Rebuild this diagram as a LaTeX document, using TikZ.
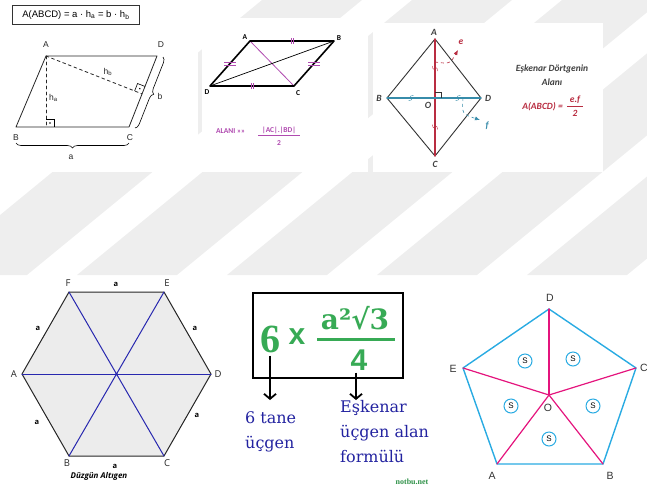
\documentclass[tikz,border=0pt]{standalone}
\usepackage{amsmath, amssymb}
\usepackage{fontspec}
\setmainfont{Liberation Sans}
\newfontfamily\calfont{Carlito}
\newfontfamily\serfont{DejaVu Serif}
\newfontfamily\timesfont{Liberation Serif}
\newfontfamily\opfont{Open Sans}
\usepackage{tikz}
\usetikzlibrary{calc, decorations.pathreplacing, arrows.meta}
\usepackage{tkz-euclide}

\definecolor{wmgray}{RGB}{238,238,238}
\definecolor{lila}{RGB}{176,74,176}
\definecolor{rotd}{RGB}{185,45,65}
\definecolor{petrol}{RGB}{55,140,170}
\definecolor{hexgray}{RGB}{236,236,236}
\definecolor{hexblue}{RGB}{40,40,175}
\definecolor{gruen}{RGB}{55,170,85}
\definecolor{tinte}{RGB}{35,35,160}
\definecolor{cyanp}{RGB}{41,171,226}
\definecolor{magp}{RGB}{228,20,125}

\begin{document}
\begin{tikzpicture}[x=1pt, y=-1pt,
    lbl/.style={inner sep=0pt},
    onelbl/.style={lbl, font=\fontsize{8.5}{9}\selectfont, text=black!85},
    twolbl/.style={lbl, font=\calfont\bfseries\fontsize{7.5}{8}\selectfont},
    rholbl/.style={lbl, font=\calfont\bfseries\itshape\fontsize{9.5}{10}\selectfont, text=black!75},
    hexlbl/.style={lbl, font=\opfont\fontsize{9.5}{10}\selectfont, text=black!85},
    sidea/.style={lbl, font=\opfont\bfseries\fontsize{7.5}{8}\selectfont},
    pentlbl/.style={lbl, font=\fontsize{10.5}{11}\selectfont, text=black!80},
    scirc/.style={circle, draw=cyanp, line width=1pt, inner sep=0pt, minimum size=14pt, font=\fontsize{8}{8}\selectfont},
    bigarrow/.style={line width=1.8pt, -{Straight Barb[length=5pt, width=12pt]}},
    bluetext/.style={lbl, text=tinte, align=left, font=\serfont\fontsize{16}{25}\selectfont}]
\useasboundingbox (0,0) rectangle (647,493);
% watermark stripes
\begin{scope}
  \clip (0,0) rectangle (647,275);
  \foreach \x in {-73,77,227,377,527,677}
    \fill[wmgray] (\x,275) -- ++(100,0) -- ++(335,-275) -- ++(-100,0) -- cycle;
\end{scope}
\fill[white] (0,0) rectangle (198,172);
\fill[white] (202,18) rectangle (368,172);
\fill[white] (373,23) rectangle (603,172);

% parallelogram with heights
\node[draw=black!80, line width=0.8pt, anchor=north west, minimum width=127pt, minimum height=19pt,
      inner sep=1pt, font=\fontsize{9.5}{10}\selectfont] (formula) at (12,5)
      {A(ABCD) = a · h\textsubscript{a} = b · h\textsubscript{b}};
\tkzDefPoints{46/56/A_1, 157/56/D_1, 16/127/B_1, 129/127/C_1}
\coordinate (Ha) at ($(B_1)!(A_1)!(C_1)$);
\coordinate (Hb) at ($(C_1)!(A_1)!(D_1)$);
\tkzDrawPolygon[draw=black!85, line width=0.8pt](A_1,D_1,C_1,B_1)
\tkzDrawSegments[dashed, line width=0.8pt, draw=black!85](A_1,Ha A_1,Hb)
\coordinate (Pa) at ($(Ha)!8pt!(A_1)$);
\coordinate (Qa) at ($(Ha)!8pt!(C_1)$);
\draw[line width=0.6pt] (Pa) -- ($(Pa)+(Qa)-(Ha)$) -- (Qa);
\fill ($0.5*(Pa)+0.5*(Qa)$) circle (0.8);
\coordinate (Pb) at ($(Hb)!8pt!(A_1)$);
\coordinate (Qb) at ($(Hb)!8pt!(D_1)$);
\draw[line width=0.6pt] (Pb) -- ($(Pb)+(Qb)-(Hb)$) -- (Qb);
\fill ($0.5*(Pb)+0.5*(Qb)$) circle (0.8);
\draw[decorate, decoration={brace, amplitude=5pt}, line width=0.6pt] (129,143) -- (16,143);
\draw[decorate, decoration={brace, amplitude=5pt}, line width=0.6pt] (163,57) -- (135,128);
\node[onelbl] (lA_1) at (46,45) {A};
\node[onelbl] (lD_1) at (161,45) {D};
\node[onelbl] (lB_1) at (16,138) {B};
\node[onelbl] (lC_1) at (130,138) {C};
\node[onelbl, anchor=west] (lha) at (49,98) {h\textsubscript{a}};
\node[onelbl] (lhb) at (108,72) {h\textsubscript{b}};
\node[onelbl] (lb) at (160,96) {b};
\node[onelbl] (la) at (71,157) {a};

% parallelogram with diagonals
\tkzDefPoints{250/41/A_2, 334/41/B_2, 294/86/C_2, 210/86/D_2}
\tkzDrawSegment[lila, line width=0.8pt](A_2,C_2)
\tkzDrawSegment[line width=0.7pt](D_2,B_2)
\tkzDrawPolygon[line width=1.6pt](A_2,B_2,C_2,D_2)
\tkzMarkSegments[mark=||, size=3pt, color=lila](A_2,B_2 D_2,C_2)
\foreach \m in {0,3}{
  \draw[lila, line width=0.7pt] ($(A_2)!.5!(D_2)+(-6,\m-1.5)$) -- ++(12,0);
  \draw[lila, line width=0.7pt] ($(B_2)!.5!(C_2)+(-6,\m-1.5)$) -- ++(12,0);
}
\node[twolbl] (lA_2) at (245,37) {A};
\node[twolbl] (lB_2) at (339,38) {B};
\node[twolbl] (lC_2) at (298,93) {C};
\node[twolbl] (lD_2) at (207,92) {D};
\node[twolbl, text=lila, anchor=west] (alani) at (216,131) {ALANI »»};
\node[twolbl, text=lila] (acbd) at (279,130) {|AC|.|BD|};
\draw[lila, line width=0.6pt] (258,135.5) -- (300,135.5);
\node[twolbl, text=lila] (iki) at (279,143) {2};

% rhombus
\tkzDefPoints{435/39/A_3, 387/98/B_3, 435/156/C_3, 481/98/D_3, 435/98/O_3}
\tkzDrawPolygon[draw=black!80, line width=0.9pt](A_3,B_3,C_3,D_3)
\tkzDrawSegment[rotd, line width=1.1pt](A_3,C_3)
\tkzDrawSegment[petrol, line width=1.1pt](B_3,D_3)
\draw[black!80, line width=0.5pt] ($(O_3)+(0,-6)$) -- ++(6,0) -- ++(0,6);
\tkzMarkSegments[mark=s, size=2.5pt, color=rotd](A_3,O_3 O_3,C_3)
\tkzMarkSegments[mark=s, size=2.5pt, color=petrol](B_3,O_3 O_3,D_3)
\coordinate (e0) at (435,62);
\coordinate (e1) at (458,50);
\coordinate (f0) at (463,98);
\coordinate (f1) at (480,120);
\draw[rotd, dashed, line width=0.6pt, -{Latex[length=5pt, width=4pt]}] (e0) .. controls (450,64) .. (e1);
\draw[petrol, dashed, line width=0.6pt, -{Latex[length=5pt, width=4pt]}] (f0) .. controls (462,114) .. (f1);
\node[rholbl] (lA_3) at (434,32) {A};
\node[rholbl] (lB_3) at (379,98) {B};
\node[rholbl] (lC_3) at (435,164) {C};
\node[rholbl] (lD_3) at (488,98) {D};
\node[rholbl] (lO_3) at (428,105) {O};
\node[rholbl, text=rotd] (le) at (461,42) {e};
\node[rholbl, text=petrol] (lf) at (487,126) {f};
\node[rholbl, align=center, font=\calfont\bfseries\itshape\fontsize{9.5}{14}\selectfont] (baslik) at (552,75)
      {Eşkenar Dörtgenin\\Alanı};
\node[rholbl, text=rotd, anchor=east] (aabcd) at (563,107) {A(ABCD) =};
\node[rholbl, text=rotd] (ef) at (575,100) {e.f};
\draw[rotd, line width=0.7pt] (567,106) -- (583,106);
\node[rholbl, text=rotd] (zwei) at (575,113) {2};

% regular hexagon
\tkzDefPoints{22/374/A_4, 69/456/B_4, 164/456/C_4, 211/374/D_4, 164/292/E_4, 69/292/F_4, 116.5/374/O_4}
\tkzDrawPolygon[fill=hexgray, draw=black!85, line width=1pt](A_4,B_4,C_4,D_4,E_4,F_4)
\tkzDrawSegments[hexblue, line width=1pt](A_4,D_4 B_4,E_4 C_4,F_4)
\fill[hexblue] (O_4) circle (1.4);
\node[hexlbl] (lF_4) at (68,283) {F};
\node[hexlbl] (lE_4) at (167,283) {E};
\node[hexlbl] (lD_4) at (218,374) {D};
\node[hexlbl] (lC_4) at (167,463) {C};
\node[hexlbl] (lB_4) at (67,463) {B};
\node[hexlbl] (lA_4) at (14,374) {A};
\node[sidea] (aFE) at (116,284) {a};
\node[sidea] (aAF) at (38,328) {a};
\node[sidea] (aED) at (195,328) {a};
\node[sidea] (aAB) at (37,422) {a};
\node[sidea] (aDC) at (197,415) {a};
\node[sidea] (aBC) at (115,466) {a};
\node[lbl, font=\opfont\bfseries\itshape\fontsize{8}{8}\selectfont] (duzgun) at (99,476) {Düzgün Altıgen};

% six triangles
\draw[line width=1.8pt] (253,293) rectangle (403,378);
\node[lbl, text=gruen, font=\timesfont\bfseries\fontsize{40}{40}\selectfont] (six) at (270,339) {6};
\node[lbl, text=gruen, font=\bfseries\fontsize{30}{30}\selectfont] (times) at (297,337) {x};
\node[lbl, text=gruen, font=\serfont\bfseries\fontsize{28}{28}\selectfont] (num) at (355,318) {a²√3};
\draw[gruen, line width=3pt] (317,339) -- (395,339);
\node[lbl, text=gruen, font=\bfseries\fontsize{30}{30}\selectfont] (four) at (359,360) {4};
\coordinate (sixend) at (270,400);
\coordinate (fourend) at (356,400);
\draw[bigarrow] ($(six.south)+(0,3)$) -- (sixend);
\draw[bigarrow] ($(four.south)+(-3,2)$) -- (fourend);
\node[bluetext, anchor=base west] (tane) at (245,448) {6 tane\\üçgen};
\node[bluetext, anchor=base west] (eskenar) at (340,462) {Eşkenar\\üçgen alan\\formülü};
\node[lbl, text=gruen!85!black, font=\timesfont\bfseries\fontsize{8}{8}\selectfont] (notbu) at (412,482) {notbu.net};

% regular pentagon
\tkzDefPoints{497/464/A_5, 603/464/B_5, 636/368/C_5, 549/309/D_5, 463/368/E_5, 549/395/O_5}
\tkzDrawPolygon[cyanp, line width=1.4pt](A_5,B_5,C_5,D_5,E_5)
\tkzDrawSegments[magp, line width=1.2pt](O_5,A_5 O_5,B_5 O_5,C_5 O_5,D_5 O_5,E_5)
\node[pentlbl] (lD_5) at (550,298) {D};
\node[pentlbl, anchor=west] (lC_5) at (640,368) {C};
\node[pentlbl] (lE_5) at (453,369) {E};
\node[pentlbl] (lA_5) at (492,476) {A};
\node[pentlbl] (lB_5) at (610,476) {B};
\node[pentlbl] (lO_5) at (548,408) {O};
\node[scirc] (s1) at (525,361) {S};
\node[scirc] (s2) at (573,359) {S};
\node[scirc] (s3) at (511,406) {S};
\node[scirc] (s4) at (593,406) {S};
\node[scirc] (s5) at (549,439) {S};
\end{tikzpicture}
\end{document}
